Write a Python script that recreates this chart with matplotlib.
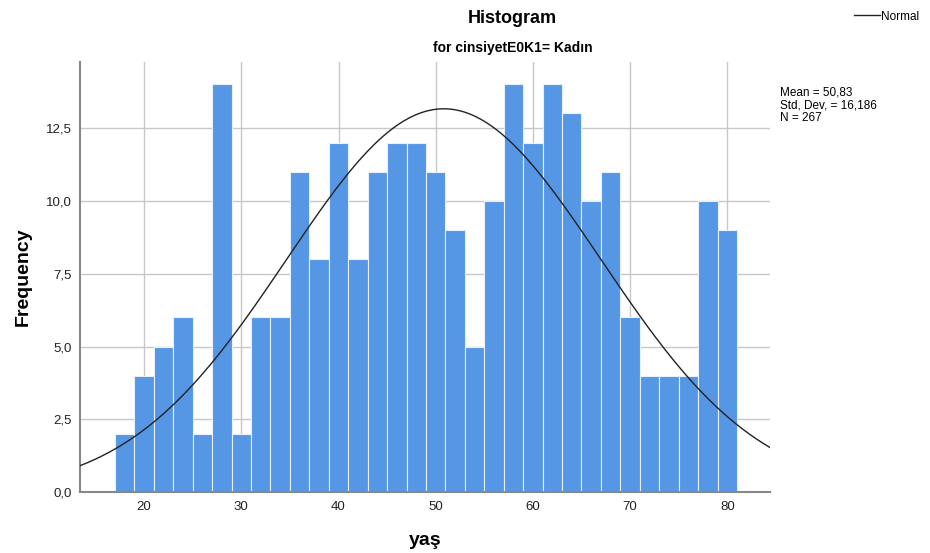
import matplotlib
matplotlib.use("Agg")
import matplotlib.pyplot as plt
import numpy as np

plt.rcParams['font.family'] = ['Liberation Sans', 'DejaVu Sans']

# bin edges (width 2) and counts
bin_start = 17
bin_width = 2
counts = [2, 4, 5, 6, 2, 14, 2, 6, 6, 11, 8, 12, 8, 11, 12, 12,
          11, 9, 5, 10, 14, 12, 14, 13, 10, 11, 6, 4, 4, 4, 10, 9]
mean = 50.83
std = 16.186
n = 267

xticks = [20, 30, 40, 50, 60, 70, 80]
yticks = [0, 2.5, 5, 7.5, 10, 12.5]

edges = bin_start + bin_width * np.arange(len(counts))

fig = plt.figure(figsize=(9.3, 5.53), dpi=100)
ax = fig.add_axes([0.086, 0.110, 0.742, 0.778])

ax.bar(edges, counts, width=bin_width, align='edge', color='#5596e5',
       edgecolor='#e8f0fb', linewidth=0.8, zorder=2)

xs = np.linspace(13.4, 84.4, 400)
ys = n * bin_width / (std * np.sqrt(2 * np.pi)) * np.exp(-0.5 * ((xs - mean) / std) ** 2)
line, = ax.plot(xs, ys, color='#222222', linewidth=1.0, zorder=3)

ax.set_xlim(13.4, 84.4)
ax.set_ylim(0, 14.77)
ax.set_xticks(xticks)
ax.set_yticks(yticks)
ax.set_yticklabels([f"{v:.1f}".replace('.', ',') for v in yticks])
ax.tick_params(length=0, labelsize=9.5, colors='#222222', pad=6)
ax.grid(True, color='#c8c8c8', linewidth=1.0, zorder=0)
ax.set_axisbelow(True)
for s in ['top', 'right']:
    ax.spines[s].set_visible(False)
for s in ['left', 'bottom']:
    ax.spines[s].set_color('#888888')
    ax.spines[s].set_linewidth(1.5)

ax.set_xlabel('yaş', fontsize=14, fontweight='bold', labelpad=14)
ax.set_ylabel('Frequency', fontsize=14, fontweight='bold', labelpad=10)

fig.text(0.551, 0.966, 'Histogram', ha='center', va='center', fontsize=13,
         fontweight='bold')
fig.text(0.551, 0.913, 'for cinsiyetE0K1= Kadın', ha='center', va='center',
         fontsize=10, fontweight='bold')

fig.legend([line], ['Normal'], loc='upper right', bbox_to_anchor=(1.0, 1.0),
           frameon=False, fontsize=8.5, handlelength=2.2, handletextpad=0.1)

fig.text(0.839, 0.810, f"Mean = {mean:.2f}".replace('.', ',') + "\n"
         + f"Std. Dev. = {std:.3f}".replace('.', ',') + "\n" + f"N = {n}",
         ha='left', va='center', fontsize=8.5, linespacing=1.05)

fig.savefig('out.png', dpi=100)
